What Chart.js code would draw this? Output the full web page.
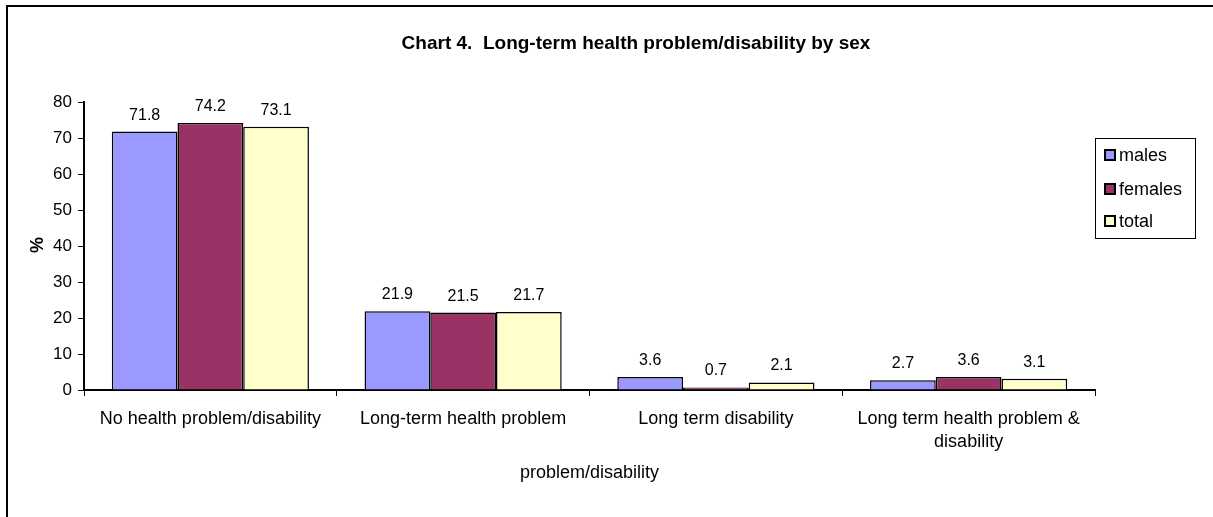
<!DOCTYPE html>
<html>
<head>
<meta charset="utf-8">
<title>Chart 4</title>
<script src="https://cdn.jsdelivr.net/npm/chart.js@4.4.1/dist/chart.umd.min.js"></script>
<style>
  html, body { margin: 0; padding: 0; background: #fff; }
  #wrap { width: 1213px; height: 517px; position: relative; }
</style>
</head>
<body>
<div id="wrap"><canvas id="chart"></canvas></div>
<script>
const categories = [
  'No health problem/disability',
  'Long-term health problem',
  'Long term disability',
  ['Long term health problem &', 'disability']
];
const males   = [71.8, 21.9, 3.6, 2.7];
const females = [74.2, 21.5, 0.7, 3.6];
const total   = [73.1, 21.7, 2.1, 3.1];
const seriesNames = ['males', 'females', 'total'];
const yTicks = [0, 10, 20, 30, 40, 50, 60, 70, 80];

const FONT = '"Liberation Sans", Arial, sans-serif';
const colors = ['#9999ff', '#993366', '#ffffcc'];

/* ── frame, title, axis titles, value labels, legend ── */
const decor = {
  id: 'decor',
  beforeDraw(chart) {
    const c = chart.ctx;
    c.save();
    c.strokeStyle = '#000';
    c.lineWidth = 2;
    c.beginPath();
    c.moveTo(7, 517); c.lineTo(7, 6); c.lineTo(1213, 6);
    c.stroke();
    c.restore();
  },
  afterDraw(chart) {
    const c = chart.ctx, a = chart.chartArea;
    c.save();
    c.fillStyle = '#000';
    c.textAlign = 'center';
    c.textBaseline = 'middle';

    c.font = 'bold 19px ' + FONT;
    c.fillText('Chart 4.  Long-term health problem/disability by sex', 636, 44);

    c.font = '18px ' + FONT;
    c.fillText('problem/disability', (a.left + a.right) / 2, 473);

    c.save();
    c.translate(38, 245);
    c.rotate(-Math.PI / 2);
    c.font = 'bold 18px ' + FONT;
    c.fillText('%', 0, 0);
    c.restore();

    // values above bars
    c.font = '16px ' + FONT;
    c.textBaseline = 'alphabetic';
    chart.data.datasets.forEach((ds, i) => {
      chart.getDatasetMeta(i).data.forEach((bar, j) => {
        c.fillText(ds.data[j].toFixed(1), bar.x, bar.y - 12);
      });
    });

    // legend
    c.strokeStyle = '#000';
    c.lineWidth = 1;
    c.strokeRect(1095.5, 138.5, 100, 100);
    c.font = '18px ' + FONT;
    c.textAlign = 'left';
    c.textBaseline = 'middle';
    const ys = [155, 189, 221];
    chart.data.datasets.forEach((ds, i) => {
      c.fillStyle = ds.backgroundColor;
      c.fillRect(1105, ys[i] - 5, 10, 10);
      c.lineWidth = 2;
      c.strokeRect(1105, ys[i] - 5, 10, 10);
      c.fillStyle = '#000';
      c.fillText(ds.label, 1119, ys[i] + 1);
    });
    c.restore();
  }
};

new Chart(document.getElementById('chart'), {
  type: 'bar',
  data: {
    labels: categories,
    datasets: seriesNames.map((name, i) => ({
      label: name,
      data: [males, females, total][i],
      backgroundColor: colors[i],
      borderColor: '#000',
      borderWidth: 1.5,
      categoryPercentage: 0.78,
      barPercentage: 1
    }))
  },
  options: {
    responsive: true,
    maintainAspectRatio: false,
    animation: false,
    layout: { padding: { top: 102, right: 118, bottom: 0, left: 0 } },
    plugins: {
      legend: { display: false },
      tooltip: { enabled: false },
      title: { display: false }
    },
    scales: {
      x: {
        grid: { drawOnChartArea: false, color: '#000', tickLength: 6, offset: true },
        border: { color: '#000', width: 2 },
        ticks: { color: '#000', font: { family: FONT, size: 18, lineHeight: 1.25 }, padding: 12, maxRotation: 0, autoSkip: false },
        afterFit(s) { s.height = 127; }
      },
      y: {
        min: 0, max: 80,
        afterBuildTicks(s) { s.ticks = yTicks.map(v => ({ value: v })); },
        grid: { drawOnChartArea: false, color: '#000', tickLength: 6 },
        border: { color: '#000', width: 2 },
        ticks: { color: '#000', font: { family: FONT, size: 17 }, padding: 6 },
        afterFit(s) { s.width = 84; }
      }
    }
  },
  plugins: [decor]
});
</script>
</body>
</html>
